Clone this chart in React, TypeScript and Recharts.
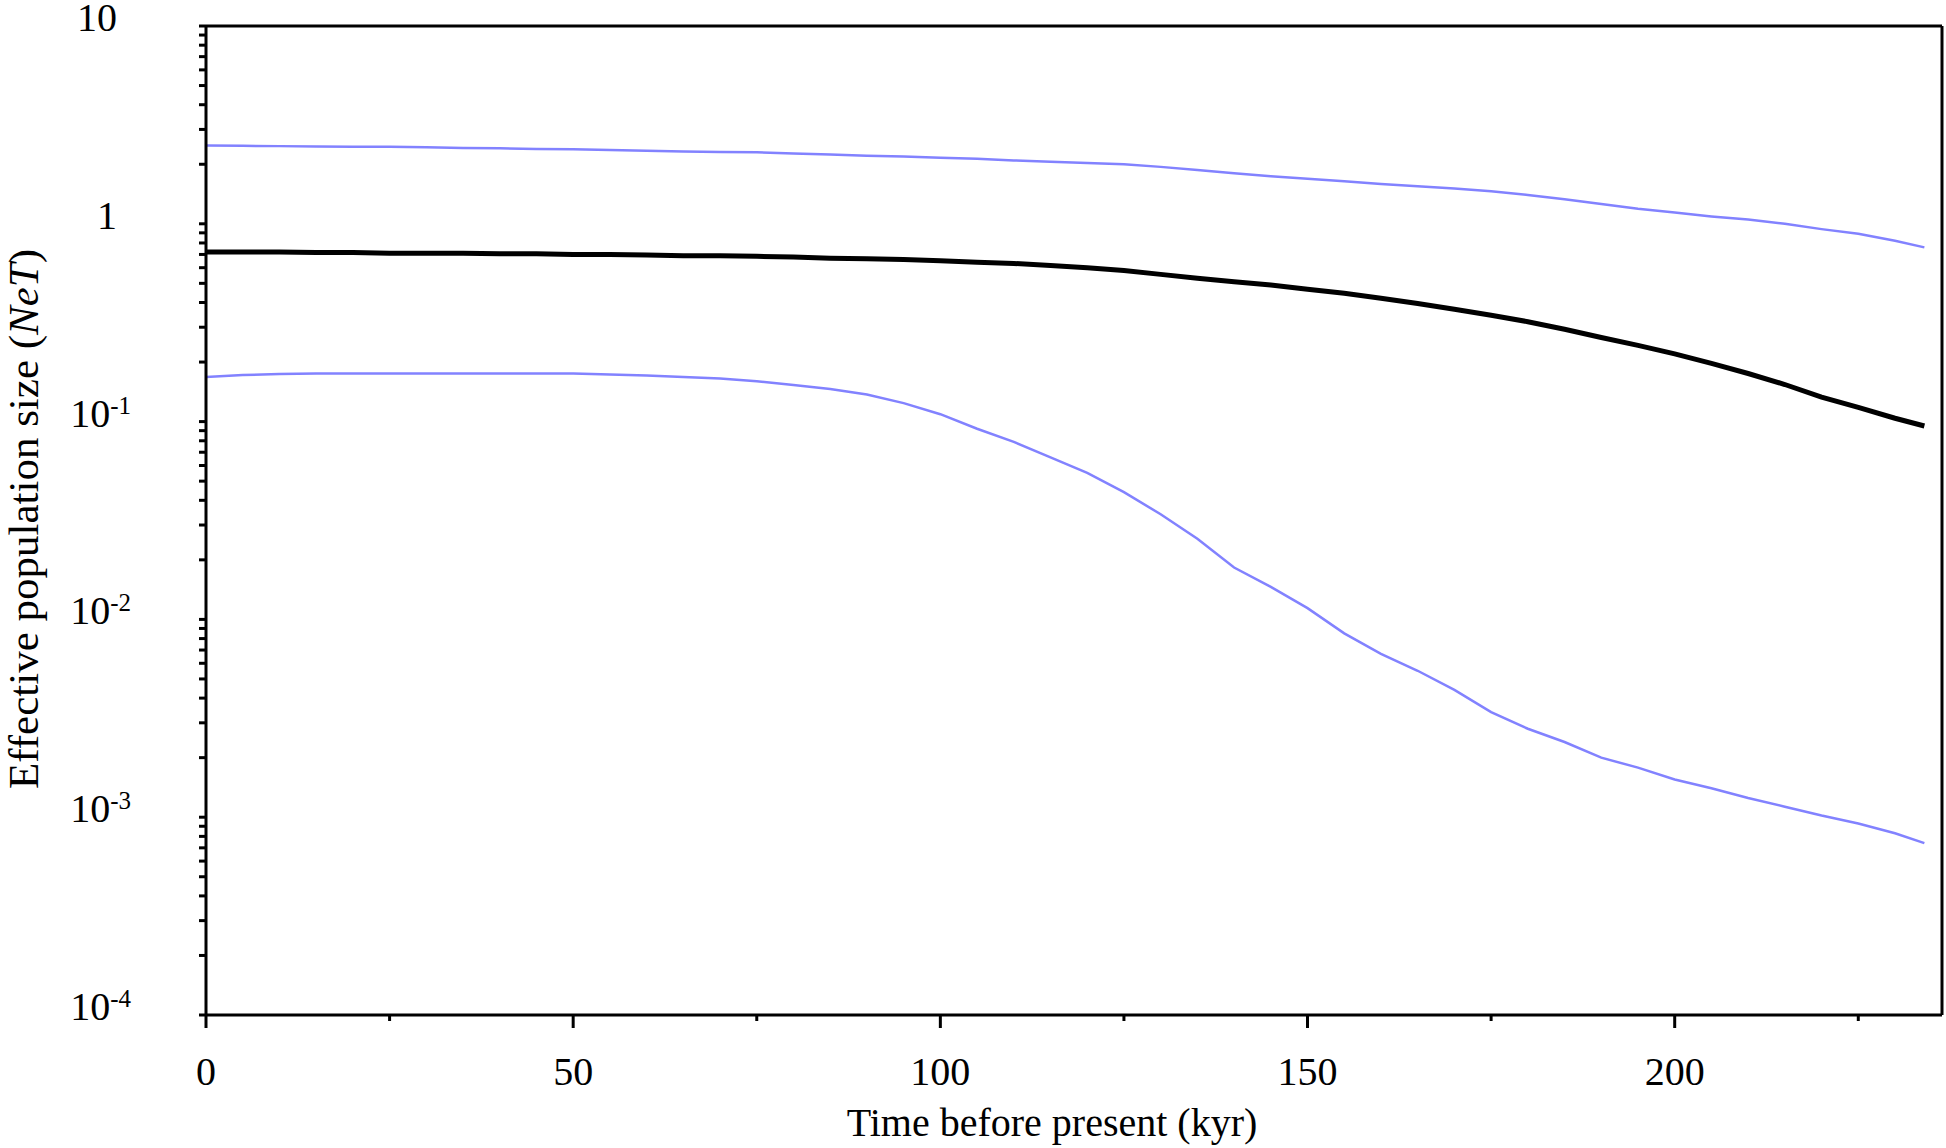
import React from 'react';
import { LineChart, Line, XAxis, YAxis, ReferenceLine } from 'recharts';

// Time before present (kyr)
const time = [0, 5, 10, 15, 20, 25, 30, 35, 40, 45, 50, 55, 60, 65, 70, 75, 80, 85, 90, 95, 100, 105, 110, 115, 120, 125, 130, 135, 140, 145, 150, 155, 160, 165, 170, 175, 180, 185, 190, 195, 200, 205, 210, 215, 220, 225, 230, 234];

// Upper 95% bound (blue)
const upper = [2.49, 2.48, 2.47, 2.46, 2.45, 2.45, 2.44, 2.42, 2.41, 2.39, 2.38, 2.36, 2.34, 2.32, 2.31, 2.3, 2.27, 2.24, 2.21, 2.19, 2.16, 2.13, 2.09, 2.06, 2.03, 2.0, 1.94, 1.87, 1.8, 1.74, 1.69, 1.64, 1.59, 1.55, 1.51, 1.46, 1.4, 1.33, 1.26, 1.19, 1.14, 1.09, 1.05, 1.0, 0.94, 0.89, 0.82, 0.76];

// Median NeT (black)
const median = [0.72, 0.72, 0.72, 0.715, 0.715, 0.71, 0.71, 0.71, 0.705, 0.705, 0.7, 0.7, 0.695, 0.69, 0.69, 0.685, 0.68, 0.67, 0.665, 0.66, 0.65, 0.64, 0.63, 0.615, 0.6, 0.58, 0.555, 0.53, 0.51, 0.49, 0.467, 0.445, 0.42, 0.395, 0.37, 0.345, 0.32, 0.293, 0.266, 0.243, 0.22, 0.197, 0.175, 0.154, 0.133, 0.118, 0.104, 0.095];

// Lower 95% bound (blue)
const lower = [0.168, 0.172, 0.174, 0.175, 0.175, 0.175, 0.175, 0.175, 0.175, 0.175, 0.175, 0.173, 0.171, 0.168, 0.165, 0.16, 0.153, 0.146, 0.137, 0.124, 0.109, 0.092, 0.079, 0.066, 0.055, 0.044, 0.034, 0.0256, 0.0183, 0.0146, 0.0114, 0.0085, 0.0067, 0.0055, 0.0044, 0.0034, 0.0028, 0.0024, 0.002, 0.00178, 0.00155, 0.0014, 0.00125, 0.00113, 0.00102, 0.00093, 0.00083, 0.00074];

const xDomain = [0, 236.4];
const xMajorTicks = [0, 50, 100, 150, 200];
const xMinorTicks = [25, 75, 125, 175, 225];
const xTickLabels = ['0', '50', '100', '150', '200'];

const yDomain = [0.0001, 10];
const yMajorTicks = [0.0001, 0.001, 0.01, 0.1, 1, 10];
const yTickLabels = ['10^-4', '10^-3', '10^-2', '10^-1', '1', '10'];
const yMinorMultipliers = [2, 3, 4, 5, 6, 7, 8, 9];

const xTitle = 'Time before present (kyr)';
const yTitleMain = 'Effective population size (';
const yTitleItalic = 'NeT';
const yTitleEnd = ')';

const FONT = '"Liberation Serif", "Times New Roman", Times, serif';
const BLUE = '#8282ff';

const data = time.map((t, i) => ({ t, upper: upper[i], median: median[i], lower: lower[i] }));

const yMinorTicks: number[] = [];
yMajorTicks.slice(0, -1).forEach((d) => yMinorMultipliers.forEach((m) => yMinorTicks.push(Number((d * m).toPrecision(3)))));
const yAllTicks = [...yMajorTicks, ...yMinorTicks].sort((a, b) => a - b);
const xAllTicks = [...xMajorTicks, ...xMinorTicks].sort((a, b) => a - b);

const XTick = (props: any) => {
  const { x, y, payload } = props;
  const idx = xMajorTicks.indexOf(payload.value);
  const major = idx >= 0;
  return (
    <g>
      <line x1={x} x2={x} y1={y} y2={y + (major ? 13 : 6)} stroke="#000" strokeWidth={3} />
      {major && (
        <text x={x} y={y + 70} textAnchor="middle" fontFamily={FONT} fontSize={40} fill="#000">
          {xTickLabels[idx]}
        </text>
      )}
    </g>
  );
};

const YTick = (props: any) => {
  const { x, y, payload } = props;
  const idx = yMajorTicks.findIndex((v) => Math.abs(v - payload.value) / v < 1e-6);
  const label = idx >= 0 ? yTickLabels[idx] : null;
  let textEl = null;
  if (label) {
    const parts = label.split('^');
    if (parts.length === 2) {
      textEl = (
        <text x={x - 75} y={y + 5} textAnchor="end" fontFamily={FONT} fontSize={40} fill="#000">
          <tspan>{parts[0]}</tspan>
          <tspan dy={-13} fontSize={25}>{parts[1]}</tspan>
        </text>
      );
    } else {
      textEl = (
        <text x={x - 89} y={y + 5} textAnchor="end" fontFamily={FONT} fontSize={40} fill="#000">
          {parts[0]}
        </text>
      );
    }
  }
  return (
    <g>
      <line x1={x - 7} x2={x} y1={y} y2={y} stroke="#000" strokeWidth={3} />
      {textEl}
    </g>
  );
};

const XTitle = () => (
  <text x={1052} y={1136} textAnchor="middle" fontFamily={FONT} fontSize={40} fill="#000">
    {xTitle}
  </text>
);

const YTitle = () => (
  <text transform="translate(38, 519) rotate(-90)" textAnchor="middle" fontFamily={FONT} fontSize={43} fill="#000">
    {yTitleMain}
    <tspan fontStyle="italic">{yTitleItalic}</tspan>
    {yTitleEnd}
  </text>
);

export default function App() {
  return (
    <div style={{ position: 'absolute', left: 0, top: 0, width: 1946, height: 1148, background: '#fff' }}>
      <LineChart width={1946} height={1148} data={data} margin={{ top: 26, right: 4, left: 0, bottom: 0 }}>
        <XAxis
          dataKey="t"
          type="number"
          domain={xDomain}
          allowDataOverflow
          ticks={xAllTicks}
          interval={0}
          tickSize={0}
          tickMargin={0}
          tickLine={false}
          tick={<XTick />}
          axisLine={{ stroke: '#000', strokeWidth: 3 }}
          height={133}
          label={<XTitle />}
        />
        <YAxis
          type="number"
          scale="log"
          domain={yDomain}
          allowDataOverflow
          ticks={yAllTicks}
          interval={0}
          tickSize={0}
          tickMargin={0}
          tickLine={false}
          tick={<YTick />}
          axisLine={{ stroke: '#000', strokeWidth: 3 }}
          width={206}
          label={<YTitle />}
        />
        <ReferenceLine y={yDomain[1]} stroke="#000" strokeWidth={3} ifOverflow="visible" />
        <ReferenceLine x={xDomain[1]} stroke="#000" strokeWidth={3} ifOverflow="visible" />
        <Line type="linear" dataKey="upper" stroke={BLUE} strokeWidth={2.5} dot={false} isAnimationActive={false} />
        <Line type="linear" dataKey="lower" stroke={BLUE} strokeWidth={2.5} dot={false} isAnimationActive={false} />
        <Line type="linear" dataKey="median" stroke="#000" strokeWidth={5} dot={false} isAnimationActive={false} />
      </LineChart>
    </div>
  );
}
